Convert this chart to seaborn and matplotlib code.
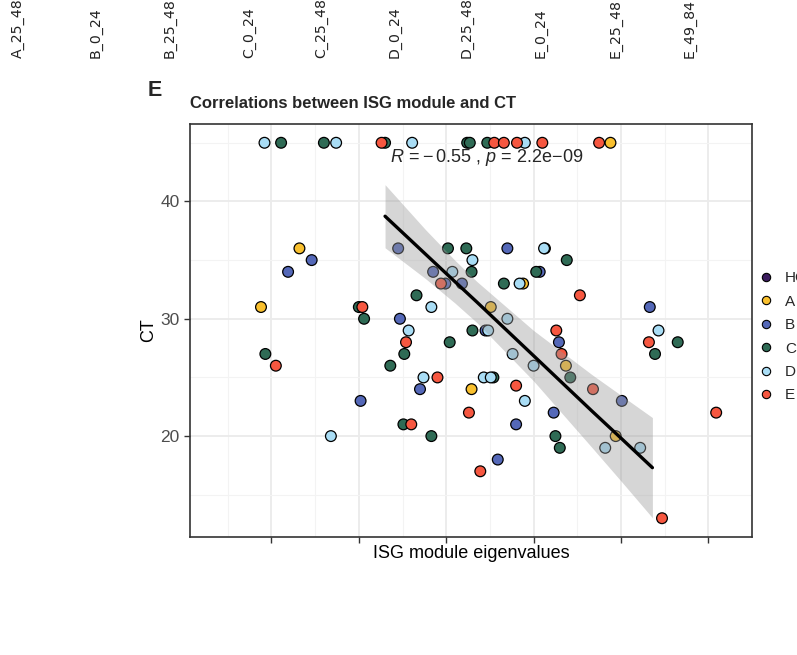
import numpy as np
import pandas as pd
import matplotlib
matplotlib.use("Agg")
import matplotlib.pyplot as plt
from matplotlib.lines import Line2D
import seaborn as sns

# ---------------- data ----------------
A_x = [-0.212, -0.168, 0.029, 0.051, 0.088, 0.113, 0.137, 0.194, 0.188]
A_y = [31, 36, 24, 31, 33, 36, 26, 20, 45]

B_x = [-0.181, -0.154, -0.098, -0.055, -0.053, -0.030, -0.015, -0.001, 0.018,
       0.045, 0.059, 0.070, 0.080, 0.107, 0.123, 0.129, 0.201, 0.233]
B_y = [34, 35, 23, 36, 30, 24, 34, 33, 33, 29, 18, 36, 21, 34, 22, 28, 23, 31]

C_x = [-0.207, -0.100, -0.094, -0.064, -0.048, -0.049, -0.034, -0.017, 0.002,
       0.023, 0.004, 0.029, 0.030, 0.054, 0.066, 0.103, 0.125, 0.130, 0.138,
       0.142, 0.239, 0.265, -0.189, -0.140, -0.070, 0.024, 0.027, 0.047]
C_y = [27, 31, 30, 26, 27, 21, 32, 20, 36, 36, 28, 34, 29, 25, 33, 34, 20, 19,
       35, 25, 27, 28, 45, 45, 45, 45, 45, 45]

D_x = [-0.132, -0.043, -0.026, -0.017, 0.007, 0.030, 0.048, 0.043, 0.051,
       0.084, 0.070, 0.076, 0.090, 0.100, 0.112, 0.182, 0.222, 0.243,
       -0.208, -0.126, -0.039, 0.090]
D_y = [20, 29, 25, 31, 34, 35, 29, 25, 25, 33, 30, 27, 23, 26, 36, 19, 19, 29,
       45, 45, 45, 45]

E_x = [-0.195, -0.096, -0.046, -0.040, -0.010, -0.006, 0.026, 0.039, 0.080,
       0.126, 0.132, 0.153, 0.168, 0.232, 0.247, 0.309,
       -0.074, 0.055, 0.066, 0.081, 0.110, 0.175]
E_y = [26, 31, 28, 21, 25, 33, 22, 17, 24.3, 29, 27, 32, 24, 28, 13, 22,
       45, 45, 45, 45, 45, 45]

groups = ["HC", "A", "B", "C", "D", "E"]
palette = {"HC": "#3B1C5E", "A": "#F9C02E", "B": "#5468B8", "C": "#2F6B55",
           "D": "#A9DDF5", "E": "#F65740"}

# fitted line and confidence band
fit_x = [-0.070, -0.024, 0.010, 0.035, 0.100, 0.167, 0.201, 0.236]
fit_y = [38.74, 35.53, 33.16, 31.43, 26.85, 22.12, 19.76, 17.31]
fit_lo = [36.05, 33.44, 31.34, 29.68, 24.70, 19.01, 16.09, 13.04]
fit_hi = [41.43, 37.62, 34.98, 33.18, 29.00, 25.23, 23.43, 21.58]

x_ticks = [-0.2, -0.1, 0.0, 0.1, 0.2, 0.3]
y_ticks = [20, 30, 40]
top_labels = ["A_25_48", "B_0_24", "B_25_48", "C_0_24", "C_25_48",
              "D_0_24", "D_25_48", "E_0_24", "E_25_48", "E_49_84"]

# ---------------- build table ----------------
rows = []
for g, xs, ys in [("A", A_x, A_y), ("B", B_x, B_y), ("C", C_x, C_y),
                  ("D", D_x, D_y), ("E", E_x, E_y)]:
    for xv, yv in zip(xs, ys):
        rows.append((g, xv, yv))
df = pd.DataFrame(rows, columns=["group", "eig", "CT"])
fit = pd.DataFrame({"x": fit_x, "y": fit_y, "lo": fit_lo, "hi": fit_hi})

# ---------------- style ----------------
sns.set_theme(style="white")
plt.rcParams["font.family"] = ["Liberation Sans", "DejaVu Sans"]
plt.rcParams["mathtext.fontset"] = "custom"
plt.rcParams["mathtext.rm"] = "Liberation Sans"
plt.rcParams["mathtext.it"] = "Liberation Sans:italic"

W, H = 797, 655
fig = plt.figure(figsize=(W / 100, H / 100), dpi=100)
L, R, T, B = 190, 752, 124, 537
ax = fig.add_axes([L / W, 1 - B / H, (R - L) / W, (B - T) / H])

sns.scatterplot(data=df, x="eig", y="CT", hue="group", hue_order=groups[1:],
                palette=palette, s=60, edgecolor="black", linewidth=0.9,
                legend=False, ax=ax, zorder=3)
ax.fill_between(fit["x"], fit["lo"], fit["hi"], color="#999999", alpha=0.4,
                linewidth=0, zorder=4)
sns.lineplot(data=fit, x="x", y="y", color="black", linewidth=2.4, ax=ax,
             zorder=5)

ax.set_xlim((L - 451) / 890, (R - 451) / 890)
ax.set_ylim(11.4, 46.6)
ax.set_xticks(x_ticks)
ax.set_xticklabels([])
ax.set_yticks(y_ticks)
ax.set_yticklabels([str(v) for v in y_ticks], color="#4D4D4D", fontsize=12.5)
ax.set_xticks([v - 0.05 for v in x_ticks] + [0.35], minor=True)
ax.set_yticks([15, 25, 35, 45], minor=True)
ax.grid(True, which="major", color="#EBEBEB", linewidth=1.3, zorder=0)
ax.grid(True, which="minor", color="#F3F3F3", linewidth=0.8, zorder=0)
ax.set_axisbelow(True)
ax.tick_params(axis="both", which="major", length=4.5, width=1.0,
               color="#333333", direction="out", left=True, bottom=True, pad=3)
ax.tick_params(axis="both", which="minor", length=0)
for sp in ax.spines.values():
    sp.set_color("#333333")
    sp.set_linewidth(1.2)

ax.set_xlabel("ISG module eigenvalues", fontsize=13, color="black", labelpad=-2)
ax.set_ylabel("CT", fontsize=13, color="black", labelpad=2.5)

ax.text((487 - L) / (R - L), (B - 157) / (B - T),
        r"$\it{R}$$\,=-\,$0.55 , $\it{p}$$\,=\,$2.2e$-$09",
        transform=ax.transAxes, ha="center", va="center", fontsize=13)

fig.text(L / W, 1 - 104 / H, "Correlations between ISG module and CT",
         fontsize=12, fontweight="bold", ha="left", va="center")
fig.text(148 / W, 1 - 90 / H, "E", fontsize=15.5, fontweight="bold",
         ha="left", va="center")

# top labels from panel above
top_x = [18, 96, 170, 249, 321, 395, 467, 541, 616, 690]
for xp, lab in zip(top_x, top_labels):
    fig.text(xp / W, 1 - 58 / H, lab, rotation=90, ha="center", va="bottom",
             fontsize=10.2, color="#222222", family=["DejaVu Sans"])

# legend
handles = [Line2D([0], [0], marker="o", linestyle="", markersize=6,
                  markerfacecolor=palette[g], markeredgecolor="black",
                  markeredgewidth=0.8) for g in groups]
fig.legend(handles, groups, loc="upper left",
           bbox_to_anchor=(752 / W, 1 - 265 / H), frameon=False,
           fontsize=11, handletextpad=0.75, labelspacing=0.62,
           handlelength=1.0, borderaxespad=0)

fig.savefig("out.png", dpi=100)
